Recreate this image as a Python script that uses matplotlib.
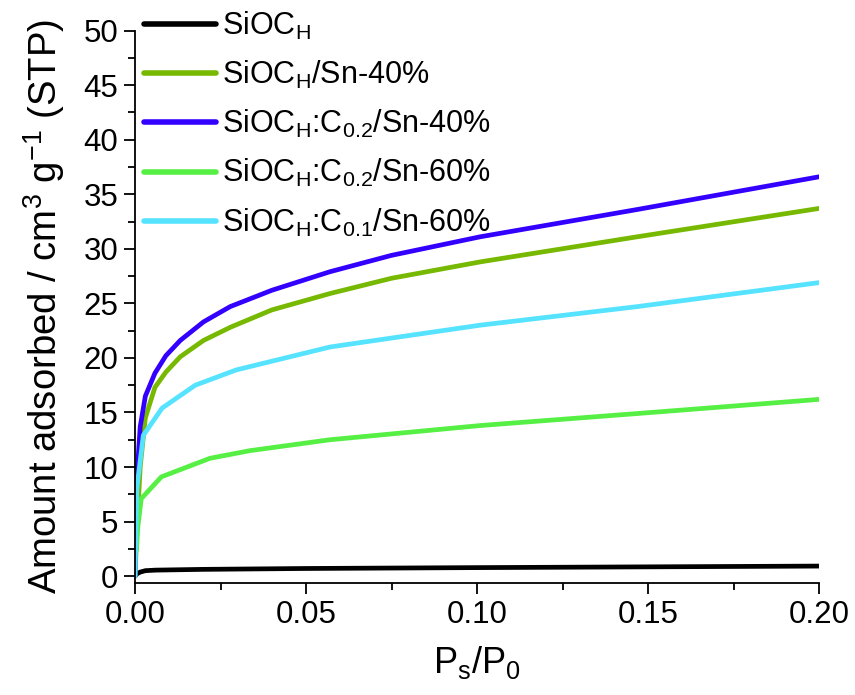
import matplotlib
matplotlib.use('Agg')
import matplotlib.pyplot as plt
from matplotlib.ticker import MultipleLocator

plt.rcParams['font.family'] = ['Liberation Sans', 'DejaVu Sans']
plt.rcParams['mathtext.fontset'] = 'custom'
plt.rcParams['mathtext.rm'] = 'Liberation Sans'
plt.rcParams['mathtext.it'] = 'Liberation Sans'
plt.rcParams['mathtext.default'] = 'regular'

# isotherm data
x_siocH = [0, 0.0005, 0.0015, 0.003, 0.006, 0.02, 0.05, 0.1, 0.15, 0.2]
y_siocH = [0, 0.2, 0.37, 0.5, 0.55, 0.62, 0.7, 0.78, 0.85, 0.92]

x_sn40 = [0, 0.0005, 0.0015, 0.003, 0.0058, 0.009, 0.0132, 0.02, 0.0278, 0.04, 0.057, 0.075, 0.1009, 0.1468, 0.2]
y_sn40 = [0, 4.0, 10.0, 14.5, 17.3, 18.7, 20.1, 21.6, 22.8, 24.4, 25.9, 27.3, 28.8, 31.1, 33.7]

x_c02sn40 = [0, 0.0003, 0.0015, 0.003, 0.0058, 0.009, 0.0132, 0.02, 0.0278, 0.04, 0.057, 0.075, 0.1009, 0.1468, 0.2]
y_c02sn40 = [0, 8.0, 13.7, 16.5, 18.6, 20.2, 21.6, 23.3, 24.7, 26.2, 27.9, 29.4, 31.1, 33.6, 36.6]

x_c02sn60 = [0.0004, 0.0008, 0.0018, 0.0077, 0.0219, 0.0336, 0.057, 0.1009, 0.1468, 0.2]
y_c02sn60 = [2.4, 4.5, 7.1, 9.1, 10.8, 11.5, 12.5, 13.8, 14.9, 16.2]

x_c01sn60 = [0, 0.0005, 0.0024, 0.0079, 0.0176, 0.0296, 0.057, 0.1009, 0.1468, 0.2]
y_c01sn60 = [0, 8.0, 12.9, 15.4, 17.5, 18.9, 21.0, 23.0, 24.7, 26.9]

labels = ['SiOC$_{H}$',
          'SiOC$_{H}$/Sn-40%',
          'SiOC$_{H}$:C$_{0.2}$/Sn-40%',
          'SiOC$_{H}$:C$_{0.2}$/Sn-60%',
          'SiOC$_{H}$:C$_{0.1}$/Sn-60%']
colors = ['#000000', '#76b900', '#3300ff', '#55f043', '#55e3ff']

fig = plt.figure(figsize=(8.55, 6.95), dpi=100)
ax = fig.add_axes([0.158, 0.161, 0.800, 0.795])

series = [(x_siocH, y_siocH), (x_sn40, y_sn40), (x_c02sn40, y_c02sn40),
          (x_c02sn60, y_c02sn60), (x_c01sn60, y_c01sn60)]
for (xs, ys), lab, col in zip(series, labels, colors):
    ax.plot(xs, ys, color=col, lw=3.4, label=lab, solid_capstyle='round',
            solid_joinstyle='round')

ax.set_xlim(0, 0.2)
ax.set_ylim(-0.64, 50)
ax.xaxis.set_major_locator(MultipleLocator(0.05))
ax.xaxis.set_minor_locator(MultipleLocator(0.025))
ax.yaxis.set_major_locator(MultipleLocator(5))
ax.yaxis.set_minor_locator(MultipleLocator(2.5))
ax.set_xticks([0, 0.05, 0.1, 0.15, 0.2])
ax.set_xticklabels(['0.00', '0.05', '0.10', '0.15', '0.20'])

for s in ['top', 'right']:
    ax.spines[s].set_visible(False)
for s in ['left', 'bottom']:
    ax.spines[s].set_linewidth(1.3)

ax.tick_params(which='major', direction='out', length=8, width=1.3, labelsize=22.5, pad=4)
ax.tick_params(which='minor', direction='out', length=5, width=1.3)

ax.set_xlabel('P$_{s}$/P$_{0}$', fontsize=26, labelpad=10)
ax.set_ylabel('Amount adsorbed / cm$^{3}$ g$^{-1}$ (STP)', fontsize=27.5, labelpad=12)

leg = ax.legend(loc='upper left', bbox_to_anchor=(-0.005, 1.06), frameon=False,
                fontsize=22, handlelength=2.35, handletextpad=0.22, labelspacing=0.56,
                borderaxespad=0.0)
for h in leg.legend_handles:
    h.set_linewidth(4)

fig.savefig('out.png', dpi=100)
